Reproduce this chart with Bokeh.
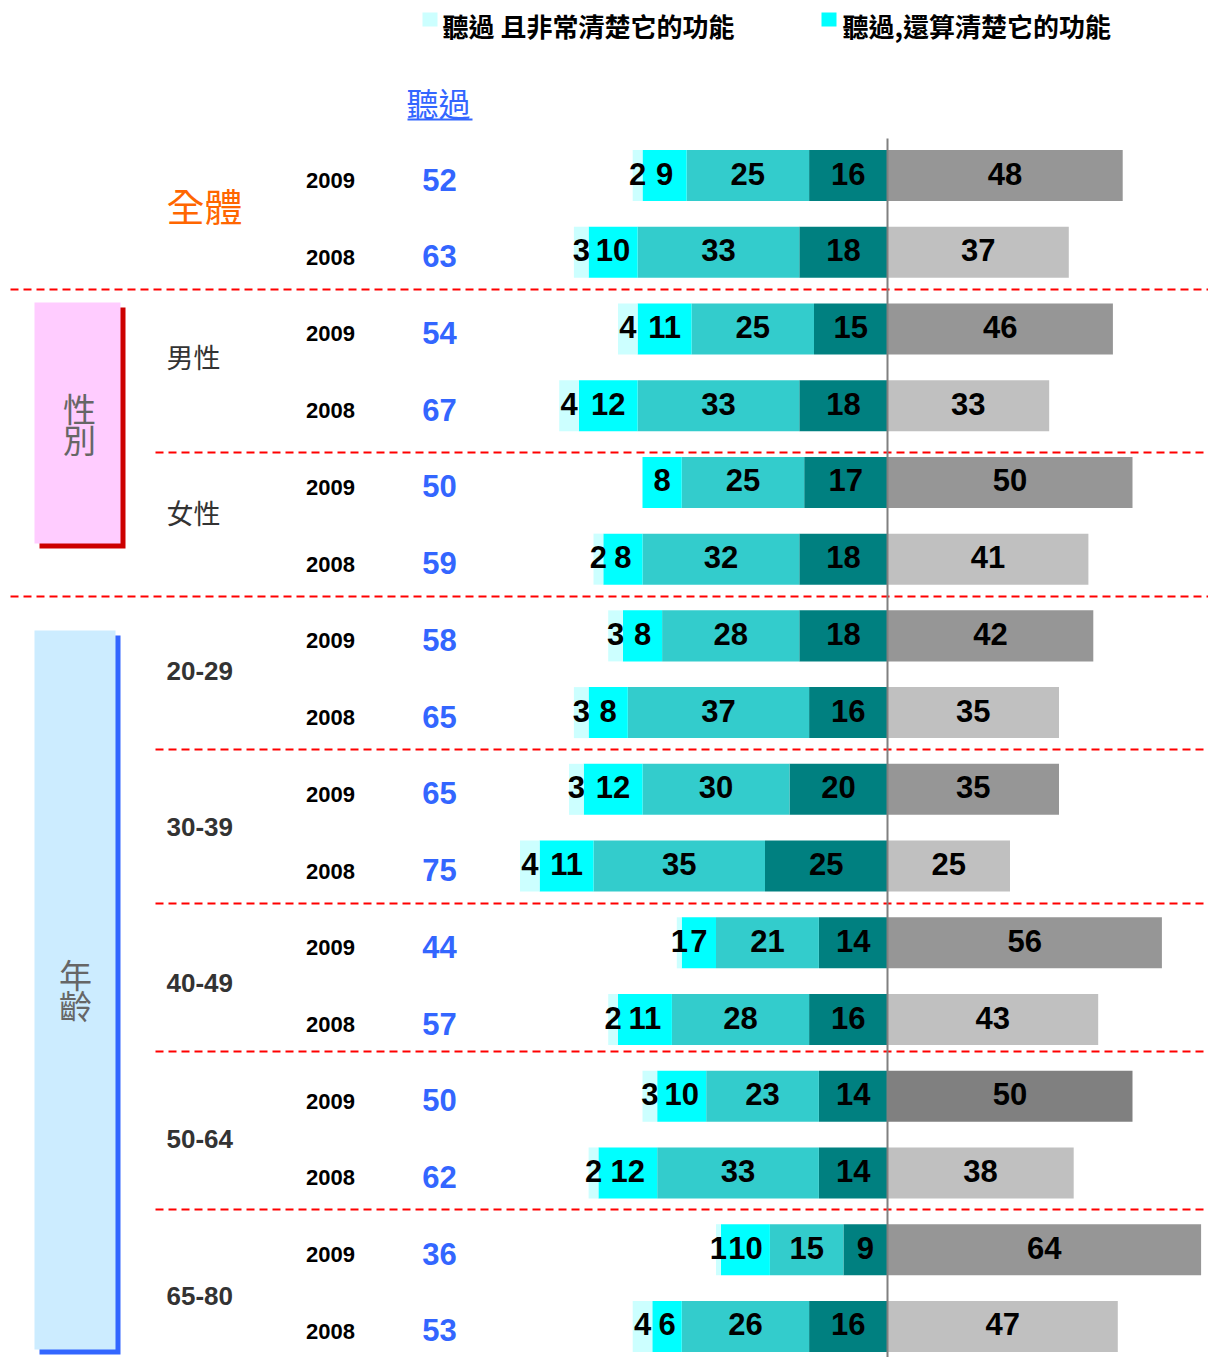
from bokeh.plotting import figure
from bokeh.models import Range1d, ColumnDataSource
from bokeh.core.properties import value
from bokeh.embed import file_html
from bokeh.resources import INLINE

# ---------------- data ----------------
group_labels = ["全體", "男性", "女性", "20-29", "30-39", "40-49", "50-64", "65-80"]
years = ["2009", "2008"]
heard_total  = [52, 63, 54, 67, 50, 59, 58, 65, 65, 75, 44, 57, 50, 62, 36, 53]
very_clear   = [2, 3, 4, 4, 0, 2, 3, 3, 3, 4, 1, 2, 3, 2, 1, 4]
fairly_clear = [9, 10, 11, 12, 8, 8, 8, 8, 12, 11, 7, 11, 10, 12, 10, 6]
not_clear    = [25, 33, 25, 33, 25, 32, 28, 37, 30, 35, 21, 28, 23, 33, 15, 26]
name_only    = [16, 18, 15, 18, 17, 18, 18, 16, 20, 25, 14, 16, 14, 14, 9, 16]
not_heard    = [48, 37, 46, 33, 50, 41, 42, 35, 35, 25, 56, 43, 50, 38, 64, 47]
legend_labels = ["聽過 且非常清楚它的功能", "聽過,還算清楚它的功能"]
heard_header = "聽過"
box_labels = ["性別", "年齡"]

# ---------------- layout helpers ----------------
W, H = 1208, 1357
OFF = 0
CENTER_PX = 887.0
SCALE = 4.9          # px per percent
ROW0_PX = 175.0
PITCH = 76.73        # px per row

def X(px):
    return (px - CENTER_PX) / SCALE

def Y(py):
    return (py - ROW0_PX) / PITCH

CJK = value("Noto Sans CJK TC")
LAT = value("Liberation Sans")

p = figure(width=W, height=H,
           x_range=Range1d(X(OFF), X(OFF + W)),
           y_range=Range1d(Y(OFF + H), Y(OFF)),
           output_backend="svg", toolbar_location=None,
           x_axis_location=None, y_axis_location=None,
           min_border=0, outline_line_color=None,
           background_fill_color="white", border_fill_color="white")
p.grid.visible = False

n = len(heard_total)
rows = list(range(n))
BAR_H = 0.665
LBL_DY = -2 / PITCH

seg_values = [name_only, not_clear, fairly_clear, very_clear]
seg_colors = ["#008080", "#33CCCC", "#00FFFF", "#CCFFFF"]

cum = [0] * n
label_x, label_y, label_t = [], [], []
for vals, col in zip(seg_values, seg_colors):
    right = [-c for c in cum]
    left = [-(c + v) for c, v in zip(cum, vals)]
    src = ColumnDataSource(dict(y=rows, left=left, right=right))
    p.hbar(y="y", left="left", right="right", height=BAR_H, source=src,
           fill_color=col, line_color=None)
    for i in rows:
        if vals[i] > 0:
            label_x.append((left[i] + right[i]) / 2)
            label_y.append(i + LBL_DY)
            label_t.append(str(vals[i]))
    cum = [c + v for c, v in zip(cum, vals)]

gray_colors = []
for i in rows:
    if years[i % 2] == "2009":
        gray_colors.append("#808080" if group_labels[i // 2] == "50-64" else "#969696")
    else:
        gray_colors.append("#C0C0C0")
gsrc = ColumnDataSource(dict(y=rows, right=not_heard, color=gray_colors))
p.hbar(y="y", left=0, right="right", height=BAR_H, source=gsrc,
       fill_color="color", line_color=None)
for i in rows:
    label_x.append(not_heard[i] / 2)
    label_y.append(i + LBL_DY)
    label_t.append(str(not_heard[i]))

# separator lines
full_lines = [289, 596]
part_lines = [452, 749, 903, 1051, 1209]
for py in full_lines:
    p.line([X(10), X(1210)], [Y(py), Y(py)], line_color="#FF0000", line_width=2, line_dash="8 5")
for py in part_lines:
    p.line([X(155), X(1210)], [Y(py), Y(py)], line_color="#FF0000", line_width=2, line_dash="8 5")

# center line
p.line([0, 0], [Y(138), Y(1360)], line_color="#808080", line_width=2)

# bar labels
p.text(x=label_x, y=label_y, text=label_t, text_align="center", text_baseline="middle",
       text_font=LAT, text_font_style="bold", text_font_size="31px", text_color="black")

# year labels and totals
p.text(x=[X(330)] * n, y=[i + 5 / PITCH for i in rows], text=[years[i % 2] for i in rows],
       text_align="center", text_baseline="middle", text_font=LAT, text_font_style="bold",
       text_font_size="22px", text_color="black")
p.text(x=[X(439)] * n, y=[i + 4 / PITCH for i in rows], text=[str(v) for v in heard_total],
       text_align="center", text_baseline="middle", text_font=LAT, text_font_style="bold",
       text_font_size="31px", text_color="#3366FF")

# group labels
group_y_px = [204, 356, 512, 670, 826, 982, 1138, 1295]
p.text(x=[X(166)], y=[Y(group_y_px[0])], text=[group_labels[0]], text_align="left",
       text_baseline="middle", text_font=CJK, text_font_size="38px", text_color="#FF6600")
p.text(x=[X(166)] * 2, y=[Y(v) for v in group_y_px[1:3]], text=group_labels[1:3], text_align="left",
       text_baseline="middle", text_font=CJK, text_font_size="27px", text_color="#333333")
p.text(x=[X(166)] * 5, y=[Y(v) for v in group_y_px[3:]], text=group_labels[3:], text_align="left",
       text_baseline="middle", text_font=LAT, text_font_style="bold", text_font_size="26px",
       text_color="#333333")

# category boxes with shadows
p.quad(left=[X(39)], right=[X(125)], top=[Y(307)], bottom=[Y(548)], fill_color="#CC0000", line_color=None)
p.quad(left=[X(34)], right=[X(120)], top=[Y(302)], bottom=[Y(543)], fill_color="#FFCCFF", line_color=None)
p.quad(left=[X(39)], right=[X(120)], top=[Y(635)], bottom=[Y(1354)], fill_color="#3366FF", line_color=None)
p.quad(left=[X(34)], right=[X(115)], top=[Y(630)], bottom=[Y(1349)], fill_color="#CCECFF", line_color=None)
p.text(x=[X(79)] * 2, y=[Y(407), Y(438)], text=list(box_labels[0]), text_align="center",
       text_baseline="middle", text_font=CJK, text_font_size="33px", text_color="#666666")
p.text(x=[X(75)] * 2, y=[Y(973), Y(1004)], text=list(box_labels[1]), text_align="center",
       text_baseline="middle", text_font=CJK, text_font_size="33px", text_color="#666666")

# legend
p.quad(left=[X(422)], right=[X(437)], top=[Y(12)], bottom=[Y(26)], fill_color="#CCFFFF", line_color=None)
p.quad(left=[X(821)], right=[X(836)], top=[Y(12)], bottom=[Y(26)], fill_color="#00FFFF", line_color=None)
p.text(x=[X(442), X(842)], y=[Y(25), Y(25)], text=legend_labels, text_align="left",
       text_baseline="middle", text_font=CJK, text_font_style="bold", text_font_size="26px",
       text_color="black")

# header
p.text(x=[X(406)], y=[Y(101)], text=[heard_header], text_align="left", text_baseline="middle",
       text_font=CJK, text_font_size="32px", text_color="#3366FF")
p.line([X(407), X(472)], [Y(119), Y(119)], line_color="#3366FF", line_width=2)

open("out.html", "w").write(file_html(p, INLINE))
